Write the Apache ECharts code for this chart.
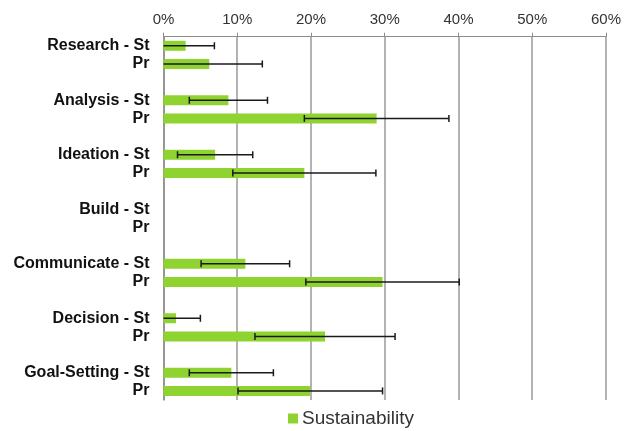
<!DOCTYPE html>
<html>
<head>
<meta charset="utf-8">
<script src="https://cdn.jsdelivr.net/npm/echarts@6/dist/echarts.min.js"></script>
<style>
  html, body { margin: 0; padding: 0; background: #fff; }
  #chart { width: 624px; height: 431px; }
</style>
</head>
<body>
<div id="chart"></div>
<script>
// rows, top to bottom (blank rows separate the groups)
const categories = [
  'Research - St', 'Pr', '',
  'Analysis - St', 'Pr', '',
  'Ideation - St', 'Pr', '',
  'Build - St', 'Pr', '',
  'Communicate - St', 'Pr', '',
  'Decision - St', 'Pr', '',
  'Goal-Setting - St', 'Pr'
];
// share in %
const sustainability = [
  3.0, 6.2, null,
  8.8, 28.9, null,
  7.0, 19.1, null,
  null, null, null,
  11.1, 29.7, null,
  1.7, 21.9, null,
  9.2, 19.9
];
// +/- error in %
const errorSize = [
  3.9, 7.2, null,
  5.3, 9.8, null,
  5.1, 9.7, null,
  null, null, null,
  6.0, 10.4, null,
  3.3, 9.5, null,
  5.7, 9.8
];
const xTicks = [0, 10, 20, 30, 40, 50, 60];

const errorData = sustainability.map((v, i) => {
  if (v == null || errorSize[i] == null) return null;
  return [i, v - errorSize[i], v + errorSize[i]];
}).filter(d => d);

const chart = echarts.init(document.getElementById('chart'));

chart.setOption({
  backgroundColor: '#fff',
  animation: false,
  grid: { left: 163.5, right: 16.5, top: 36.7, bottom: 31 },
  legend: {
    top: 404,
    left: 283,
    icon: 'rect',
    itemWidth: 10,
    itemHeight: 10,
    itemGap: 4,
    textStyle: { fontFamily: 'Liberation Sans, Arial', fontSize: 19, color: '#333', padding: [0, 0, 0, -1] },
    data: ['Sustainability']
  },
  xAxis: {
    type: 'value',
    position: 'top',
    min: xTicks[0],
    max: xTicks[xTicks.length - 1],
    interval: 10,
    axisLine: { show: true, lineStyle: { color: '#8c8c8c', width: 1 } },
    axisTick: { show: true, length: 4, lineStyle: { color: '#8c8c8c' } },
    splitLine: { show: true, lineStyle: { color: '#9a9a9a', width: 1.5 } },
    axisLabel: {
      formatter: '{value}%',
      fontFamily: 'Liberation Sans, Arial',
      fontSize: 15,
      color: '#333',
      margin: 9
    }
  },
  yAxis: {
    type: 'category',
    inverse: true,
    data: categories,
    axisLine: { show: true, lineStyle: { color: '#8c8c8c', width: 1.5 } },
    axisTick: { show: false },
    axisLabel: {
      interval: 0,
      fontFamily: 'Liberation Sans, Arial',
      fontWeight: 'bold',
      fontSize: 16,
      color: '#111',
      margin: 14
    }
  },
  series: [
    {
      name: 'Sustainability',
      type: 'bar',
      data: sustainability,
      barWidth: 10,
      itemStyle: { color: '#8fd330' },
      z: 2
    },
    {
      name: 'error',
      type: 'custom',
      data: errorData,
      z: 3,
      renderItem: (params, api) => {
        const row = api.value(0);
        let lo = api.value(1);
        const hi = api.value(2);
        const clipped = lo < 0;
        if (clipped) lo = 0;
        const p0 = api.coord([lo, row]);
        const p1 = api.coord([hi, row]);
        const h = 3.5;
        const style = { stroke: '#1a1a1a', lineWidth: 1.5, fill: null };
        const children = [
          { type: 'line', shape: { x1: p0[0], y1: p0[1], x2: p1[0], y2: p1[1] }, style },
          { type: 'line', shape: { x1: p1[0], y1: p1[1] - h, x2: p1[0], y2: p1[1] + h }, style }
        ];
        if (!clipped) {
          children.push({ type: 'line', shape: { x1: p0[0], y1: p0[1] - h, x2: p0[0], y2: p0[1] + h }, style });
        }
        return { type: 'group', children };
      }
    }
  ]
});
</script>
</body>
</html>
